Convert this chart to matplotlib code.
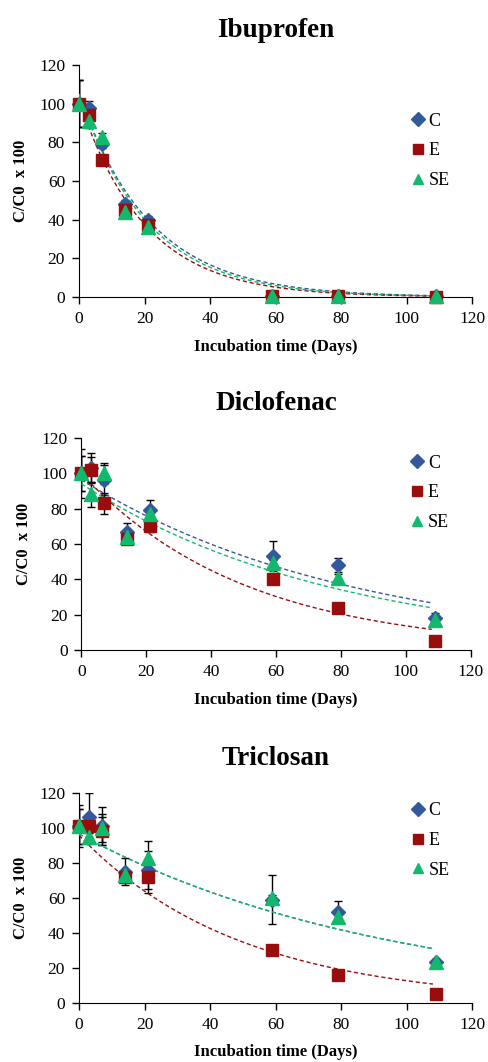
import matplotlib.pyplot as plt
import numpy as np

plt.rcParams['font.family'] = ['Liberation Serif', 'DejaVu Serif']

days = [0, 3, 7, 14, 21, 59, 79, 109]
series = ["C", "E", "SE"]
colors = {"C": "#33589c", "E": "#990d0d", "SE": "#12b86c"}
markers = {"C": "D", "E": "s", "SE": "^"}
msizes = {"C": 7, "E": 9, "SE": 10}

titles = ["Ibuprofen", "Diclofenac", "Triclosan"]

# mean values (C/C0 x 100)
ibu_C = [100, 98, 79, 48, 40, 0.6, 0.4, 0.3]
ibu_E = [100, 94, 71, 45, 37, 0.5, 0.3, 0.2]
ibu_SE = [100, 91, 83, 44, 36, 0.6, 0.4, 0.3]
ibu_err = [12, 3.5, 2, 2, 2, 0.5, 0.3, 0.3]

dic_C = [100, 103, 96, 67, 79, 53, 48, 18]
dic_E = [100, 102, 83, 63, 70, 40, 24, 5]
dic_SE = [100, 88, 100, 64, 77, 49, 41, 17]
dic_err = [14, 8.6, 8.5, 5, 6, 8.5, 4, 3]
dic_err_SE = [10, 7, 6, 3, 3, 2, 2, 2]

tri_C = [101, 106, 101, 75, 76, 59, 52, 23]
tri_E = [101, 101, 98, 72, 72, 30, 16, 5]
tri_SE = [101, 95, 100, 73, 83, 60, 49, 23]
tri_err = [12, 14, 11, 7.5, 11, 14, 6, 2]
tri_err_E = [10, 4, 8, 3, 9.5, 1.5, 1.5, 1]

# exponential trendlines y = a * exp(-k t)
ibu_fit_a = [105, 102, 105]
ibu_fit_k = [0.046, 0.050, 0.048]
dic_fit_a = [96.3, 99.8, 94.0]
dic_fit_k = [0.0119, 0.0199, 0.0127]
tri_fit_a = [96.4, 95.7, 96.4]
tri_fit_k = [0.0105, 0.0203, 0.0105]

panels = [
    ([ibu_C, ibu_E, ibu_SE], [ibu_err, ibu_err, ibu_err], ibu_fit_a, ibu_fit_k),
    ([dic_C, dic_E, dic_SE], [dic_err, dic_err_SE, dic_err_SE], dic_fit_a, dic_fit_k),
    ([tri_C, tri_E, tri_SE], [tri_err, tri_err_E, tri_err_E], tri_fit_a, tri_fit_k),
]

fig = plt.figure(figsize=(4.88, 10.62), dpi=100)
rects = [
    [0.1619, 0.7203, 0.8057, 0.2185],
    [0.1670, 0.3880, 0.7976, 0.1996],
    [0.1619, 0.0558, 0.8057, 0.1977],
]
legend_y = [0.834, 0.964, 0.997]

for i, (vals, errs, fa, fk) in enumerate(panels):
    ax = fig.add_axes(rects[i])
    t = np.linspace(0, 108, 200)
    for j, s in enumerate(series):
        ax.errorbar(days, vals[j], yerr=errs[j], fmt="none", ecolor="black",
                    elinewidth=1.0, capsize=3, capthick=1.0, zorder=2)
    for j, s in enumerate(series):
        ax.plot(t, fa[j] * np.exp(-fk[j] * t), linestyle=(0, (3, 2)),
                color=colors[s], linewidth=1.0, zorder=3)
    for j, s in enumerate(series):
        ax.plot(days, vals[j], linestyle="none", marker=markers[s],
                markersize=msizes[s], color=colors[s], label=s, zorder=4,
                clip_on=False)

    ax.set_xlim(0, 120)
    ax.set_ylim(0, 120)
    ax.set_xticks(np.arange(0, 121, 20))
    ax.set_yticks(np.arange(0, 121, 20))
    ax.spines["top"].set_visible(False)
    ax.spines["right"].set_visible(False)
    ax.tick_params(direction="out", length=5, width=1, labelsize=12.5, pad=5)
    ax.set_title(titles[i], fontsize=19.5, fontweight="bold", pad=20)
    ax.set_xlabel("Incubation time (Days)", fontsize=12, fontweight="bold", labelpad=8.5)
    ax.set_ylabel("C/C0  x 100", fontsize=12, fontweight="bold", labelpad=7)
    leg = ax.legend(loc="upper left", bbox_to_anchor=(0.825, legend_y[i]),
                    frameon=False, fontsize=13, handlelength=0.6,
                    handletextpad=0.3, labelspacing=0.7, borderpad=0)
    for h in leg.legend_handles:
        h.set_markersize(7)

fig.savefig("out.png", dpi=100)
